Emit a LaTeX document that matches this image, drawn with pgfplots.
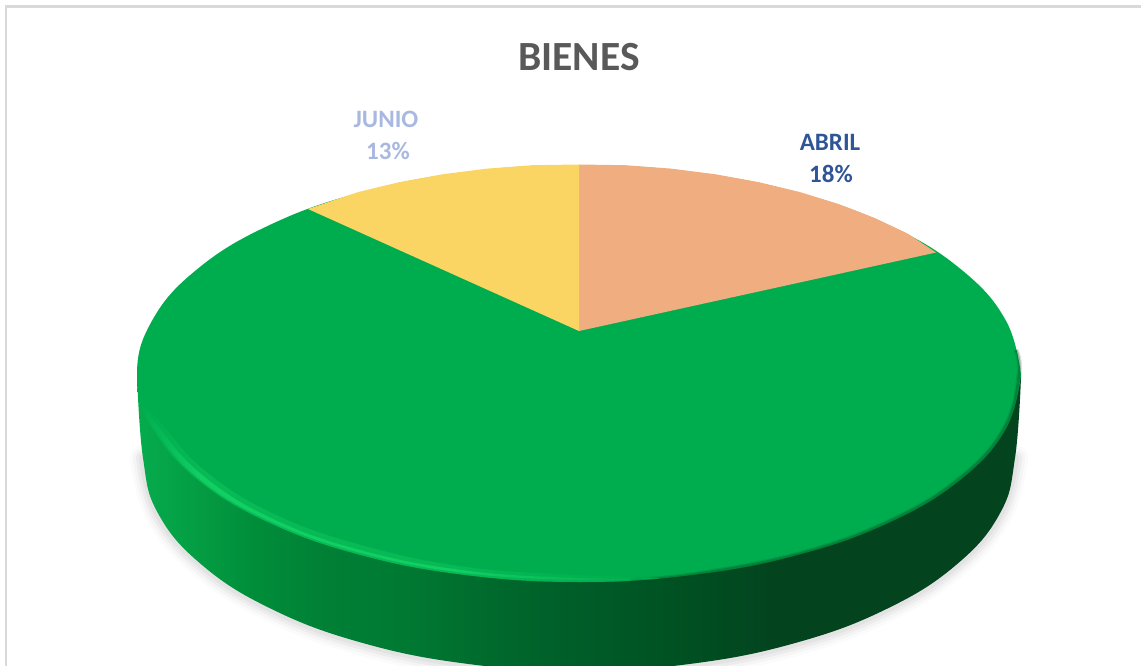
\documentclass[border=0pt]{standalone}
\usepackage{pgfplots}
\pgfplotsset{compat=1.18}
\usepackage{fontspec}
\setmainfont{Carlito}
\definecolor{pieg}{HTML}{00AD4E}
\definecolor{pieo}{HTML}{F0AE80}
\definecolor{piey}{HTML}{FBD564}
\definecolor{titlec}{HTML}{595959}
\definecolor{abrilc}{HTML}{2F5597}
\definecolor{junioc}{HTML}{A9B8E0}
\definecolor{s0}{HTML}{05AA4B}
\definecolor{s1}{HTML}{049C43}
\definecolor{s2}{HTML}{008E3A}
\definecolor{s3}{HTML}{007F35}
\definecolor{s4}{HTML}{007A33}
\definecolor{s5}{HTML}{00682C}
\definecolor{s6}{HTML}{005A27}
\definecolor{s7}{HTML}{004E21}
\definecolor{s8}{HTML}{03441F}
\definecolor{hl}{HTML}{12CF64}
\pgfdeclarehorizontalshading{sideshade}{100bp}{
 color(0bp)=(s0); color(25.5bp)=(s0); color(28.6bp)=(s1); color(31.4bp)=(s2);
 color(35.9bp)=(s3); color(39.9bp)=(s4); color(45.5bp)=(s5); color(51.2bp)=(s6);
 color(56.8bp)=(s7); color(60.8bp)=(s8); color(100bp)=(s8)}
\pgfdeclarehorizontalshading{rimshade}{100bp}{
 color(0bp)=(pieg); color(25bp)=(pieg); color(31bp)=(hl); color(55bp)=(hl);
 color(75bp)=(pieg); color(100bp)=(pieg)}
\pgfplotstableread{
x y
137 375
143 458
157.9 513.1
201.4 564.5
270.7 608.6
361 642.5
466.2 663.7
579 671
691.8 663.7
797 642.5
887.3 608.6
956.6 564.5
1000.1 513.1
1015 458
1021 377
}\sideedge
\pgfplotstableread{
x y
143 458
157.9 513.1
201.4 564.5
270.7 608.6
361 642.5
466.2 663.7
579 671
691.8 663.7
797 642.5
887.3 608.6
956.6 564.5
1000.1 513.1
1015 458
}\shadowedge
\pgfplotstableread{
x y
1021 375
1005.9 320.6
961.8 270
891.5 226.5
800 193.1
693.4 172.2
579 165
464.6 172.2
358 193.1
266.5 226.5
196.2 270
152.1 320.6
137 375
152.1 428.6
196.2 478.5
266.5 521.4
358 554.3
464.6 574.9
579 582
693.4 574.9
800 554.3
891.5 521.4
961.8 478.5
1005.9 428.6
1021 375
}\toptable
\pgfplotstableread{
x y
1016 350
1019 375
1004.5 428
961 477.5
891 520.5
800 553.5
693.4 574.5
630 580
}\darkrim
\begin{document}
\begin{tikzpicture}
\useasboundingbox (0,0) rectangle (1141pt,666pt);
\begin{axis}[
  scale only axis, width=1141pt, height=666pt,
  xmin=0, xmax=1141, ymin=0, ymax=666, y dir=reverse,
  axis lines=none, clip=true,
  every axis plot/.append style={mark=none},
]
% chart frame
\addplot[draw=black!15, line width=2.5pt] coordinates {(6,666) (6,6.5) (1141,6.5)};
% soft shadow
\addplot[draw=black, line width=26pt, opacity=.015, smooth, tension=.7, line cap=round] table {\shadowedge};
\addplot[draw=black, line width=20pt, opacity=.025, smooth, tension=.7, line cap=round] table {\shadowedge};
\addplot[draw=black, line width=14pt, opacity=.035, smooth, tension=.7, line cap=round] table {\shadowedge};
\addplot[draw=black, line width=8pt, opacity=.04, smooth, tension=.7, line cap=round] table {\shadowedge};
% side wall
\addplot[draw=none, shade, shading=sideshade, smooth, tension=.7] table {\sideedge} -- cycle;
% top: ABRIL 18 %, MAYO 69 %, JUNIO 13 %
\addplot[draw=none, fill=pieg, smooth, tension=.7] table {\toptable} -- cycle;
\addplot[draw=none, fill=pieo] coordinates {(579,331) (579,164.5) (625.2,165.2) (670.9,168.6) (715.6,174.3) (758.8,182.2) (800,192.1) (838.8,204.1) (874.7,218) (907.5,233.5) (936,252.5)} -- cycle;
\addplot[draw=none, fill=piey] coordinates {(579,331) (308,209) (358,192.1) (399.2,182.2) (442.4,174.3) (487.1,168.6) (532.8,165.2) (579,164.5)} -- cycle;
% bevel: dark on the right
\addplot[draw=s8, line width=5pt, opacity=.15, smooth, tension=.7] table {\darkrim};
\addplot[draw=s8, line width=2.5pt, opacity=.3, smooth, tension=.7] table {\darkrim};
% bevel: light on the left
\addplot[draw=none, shade, shading=rimshade, smooth, tension=.7, opacity=.4] coordinates {(139,398) (152.1,428.6) (196.2,478.5) (266.5,521.4) (358,554.3) (464.6,574.9) (579,582) (660,578) (579,575) (466,567) (361,545) (272,513) (204,470) (160,422) (139,398)} -- cycle;
\addplot[draw=none, shade, shading=rimshade, smooth, tension=.7] coordinates {(139,398) (153,428) (197.5,477.5) (267.5,520) (359,552.5) (465,573) (579,580) (660,578) (579,578) (465.5,570.5) (360,550) (270,517.5) (201,474) (157,425) (139,398)} -- cycle;
% texts
\node[font=\fontsize{41.5}{41.5}\selectfont\bfseries, text=titlec] at (axis cs:579,57) {BIENES};
\node[font=\fontsize{25}{25}\selectfont\bfseries, text=junioc] at (axis cs:386,119) {JUNIO};
\node[font=\fontsize{25}{25}\selectfont\bfseries, text=junioc] at (axis cs:388,151) {13\%};
\node[font=\fontsize{25}{25}\selectfont\bfseries, text=abrilc] at (axis cs:830,142) {ABRIL};
\node[font=\fontsize{25}{25}\selectfont\bfseries, text=abrilc] at (axis cs:831,174) {18\%};
\end{axis}
\end{tikzpicture}
\end{document}
